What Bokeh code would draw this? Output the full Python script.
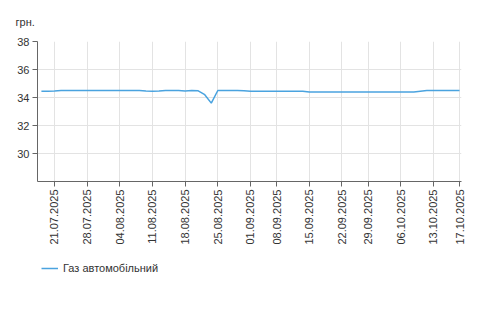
import math
from bokeh.plotting import figure
from bokeh.layouts import column
from bokeh.models import Range1d, FixedTicker, Legend, LegendItem
from bokeh.embed import file_html
from bokeh.resources import INLINE

# ---- data ----
dates = [
    "17.07.2025", "18.07.2025",
    "21.07.2025", "22.07.2025", "23.07.2025", "24.07.2025", "25.07.2025",
    "28.07.2025", "29.07.2025", "30.07.2025", "31.07.2025", "01.08.2025",
    "04.08.2025", "05.08.2025", "06.08.2025", "07.08.2025", "08.08.2025",
    "11.08.2025", "12.08.2025", "13.08.2025", "14.08.2025", "15.08.2025",
    "18.08.2025", "19.08.2025", "20.08.2025", "21.08.2025", "22.08.2025",
    "25.08.2025", "26.08.2025", "27.08.2025", "28.08.2025", "29.08.2025",
    "01.09.2025", "02.09.2025", "03.09.2025", "04.09.2025",
    "08.09.2025", "09.09.2025", "10.09.2025", "11.09.2025", "12.09.2025",
    "15.09.2025", "16.09.2025", "17.09.2025", "18.09.2025", "19.09.2025",
    "22.09.2025", "23.09.2025", "24.09.2025", "25.09.2025",
    "29.09.2025", "30.09.2025", "01.10.2025", "02.10.2025", "03.10.2025",
    "06.10.2025", "07.10.2025", "08.10.2025", "09.10.2025", "10.10.2025",
    "13.10.2025", "14.10.2025", "15.10.2025", "16.10.2025", "17.10.2025",
]
prices = [
    34.45, 34.45,
    34.47, 34.50, 34.50, 34.50, 34.50,
    34.50, 34.50, 34.50, 34.50, 34.50,
    34.50, 34.50, 34.50, 34.50, 34.47,
    34.45, 34.47, 34.50, 34.50, 34.50,
    34.47, 34.50, 34.48, 34.20, 33.60,
    34.50, 34.50, 34.50, 34.50, 34.48,
    34.45, 34.45, 34.45, 34.45,
    34.45, 34.45, 34.45, 34.45, 34.45,
    34.40, 34.40, 34.40, 34.40, 34.40,
    34.40, 34.40, 34.40, 34.40,
    34.40, 34.40, 34.40, 34.40, 34.40,
    34.40, 34.40, 34.40, 34.45, 34.50,
    34.50, 34.50, 34.50, 34.50, 34.50,
]
tick_labels = ["21.07.2025", "28.07.2025", "04.08.2025", "11.08.2025", "18.08.2025",
               "25.08.2025", "01.09.2025", "08.09.2025", "15.09.2025", "22.09.2025",
               "29.09.2025", "06.10.2025", "13.10.2025", "17.10.2025"]
y_ticks = [30, 32, 34, 36, 38]
series_name = "Газ автомобільний"
unit_label = "грн."

FONT = "Liberation Sans"
TXT = "#333333"
LINE = "#4aa3df"

xs = list(range(len(dates)))
tick_idx = [dates.index(t) for t in tick_labels]

p = figure(width=500, height=250, output_backend="svg", toolbar_location=None,
           x_range=Range1d(-0.6, len(dates) - 1 + 0.3), y_range=Range1d(28, 38),
           min_border_left=37, min_border_right=39, min_border_top=41, min_border_bottom=69,
           title=unit_label)
p.outline_line_color = None
p.background_fill_color = "white"
p.border_fill_color = "white"

p.title.align = "left"
p.title.offset = -22
p.title.text_font = FONT
p.title.text_font_size = "11px"
p.title.text_font_style = "normal"
p.title.text_color = TXT
p.title.standoff = 27

r = p.line(xs, prices, line_color=LINE, line_width=1.5)

p.xaxis.ticker = FixedTicker(ticks=tick_idx)
p.xaxis.major_label_overrides = {i: t for i, t in zip(tick_idx, tick_labels)}
p.xaxis.major_label_orientation = math.pi / 2
p.yaxis.ticker = FixedTicker(ticks=y_ticks)

for ax in (p.xaxis[0], p.yaxis[0]):
    ax.axis_line_color = "#666666"
    ax.major_tick_line_color = "#666666"
    ax.major_tick_out = 5
    ax.major_tick_in = 0
    ax.minor_tick_line_color = None
    ax.major_label_text_font = FONT
    ax.major_label_text_font_size = "11px"
    ax.major_label_text_color = TXT
    ax.major_label_standoff = 3

p.xgrid.ticker = FixedTicker(ticks=tick_idx)
p.ygrid.ticker = FixedTicker(ticks=y_ticks)
p.grid.grid_line_color = "#e3e3e3"
p.grid.grid_line_width = 1

# legend strip below the chart (its frame is aligned with the chart's frame)
pl = figure(width=500, height=59, output_backend="svg", toolbar_location=None,
            x_range=Range1d(0, 1), y_range=Range1d(0, 1),
            min_border=0, x_axis_type=None, y_axis_type=None)
pl.outline_line_color = None
pl.grid.visible = False
lr = pl.line([-1, -2], [-1, -2], line_color=LINE, line_width=1.5)
legend = Legend(items=[LegendItem(label=series_name, renderers=[lr])],
                location=(4, 34), padding=0, margin=0, border_line_color=None,
                background_fill_alpha=0, label_text_font=FONT, label_text_font_size="11px",
                label_text_color=TXT, glyph_width=17, glyph_height=14, label_height=14,
                label_standoff=5)
pl.add_layout(legend)

open("out.html", "w").write(file_html(column(p, pl, spacing=0), INLINE))
